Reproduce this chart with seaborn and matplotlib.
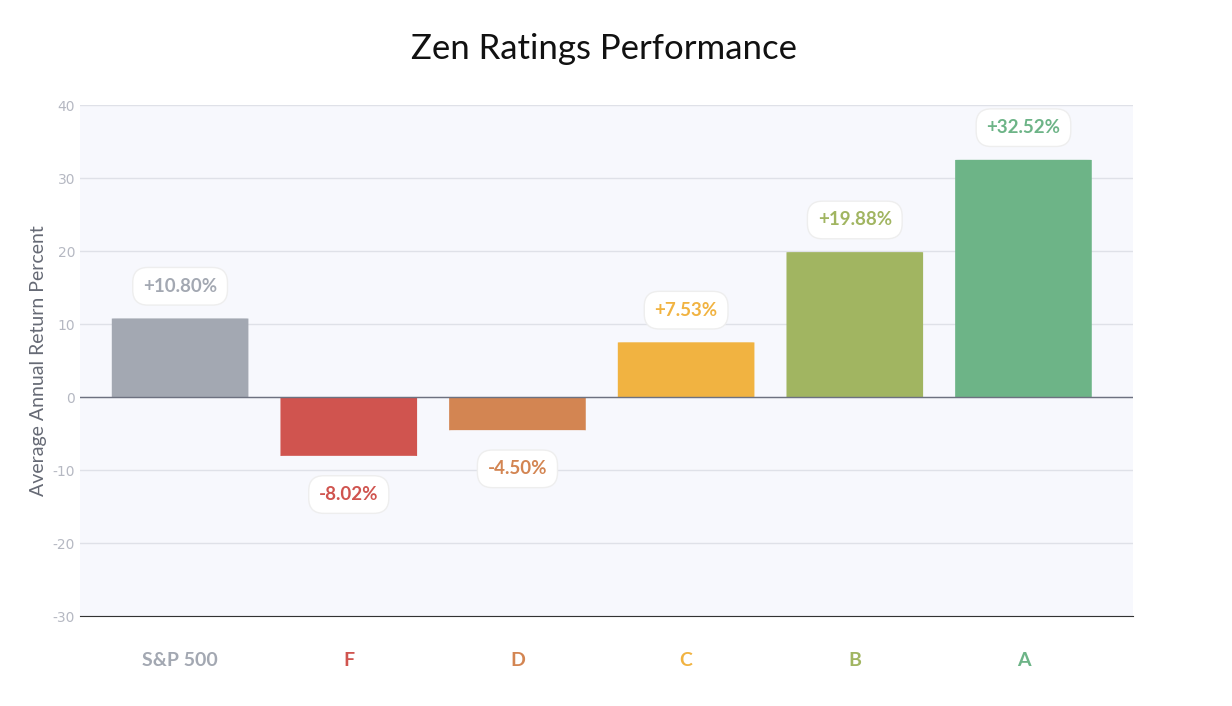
import matplotlib
matplotlib.use("Agg")
import matplotlib.pyplot as plt
import seaborn as sns
import pandas as pd
from matplotlib.patches import FancyBboxPatch

plt.rcParams["axes.unicode_minus"] = False

categories = ["S&P 500", "F", "D", "C", "B", "A"]
values = [10.80, -8.02, -4.50, 7.53, 19.88, 32.52]
labels = ["+10.80%", "-8.02%", "-4.50%", "+7.53%", "+19.88%", "+32.52%"]
colors = ["#a3a8b2", "#d0544f", "#d38552", "#f1b341", "#a1b561", "#6db487"]
yticks = [-30, -20, -10, 0, 10, 20, 30, 40]

df = pd.DataFrame({"cat": categories, "val": values})
fig = plt.figure(figsize=(12.32, 7.06), dpi=100)
ax = fig.add_axes([0.065, 0.127, 0.855, 0.724])
ax.set_facecolor("#f7f8fd")
sns.barplot(data=df, x="cat", y="val", hue="cat", palette=colors, width=0.81,
            saturation=1, legend=False, ax=ax, zorder=3)
for p in list(ax.patches):
    x, y, w, h = p.get_x(), p.get_y(), p.get_width(), p.get_height()
    fc = p.get_facecolor()
    p.remove()
    ax.add_patch(FancyBboxPatch((x, y), w, h, boxstyle="round,pad=0,rounding_size=0.04",
                                mutation_aspect=7.3 / 169 * 12, fc=fc, ec="none", zorder=3))
ax.set_ylim(-30, 40)
ax.set_xlim(-0.593, 5.652)
ax.set_yticks(yticks)
ax.tick_params(axis="y", labelsize=10, labelcolor="#b5b8c2", length=0)
ax.tick_params(axis="x", length=0, pad=26)
for t, c in zip(ax.get_xticklabels(), colors):
    t.set_color(c); t.set_fontweight("bold"); t.set_fontsize(14); t.set_family("Lato")
ax.grid(axis="y", color="#dfe1e8", lw=1, zorder=0)
ax.axhline(0, color="#6d7180", lw=1, zorder=4)
for s in ["top", "right", "left"]:
    ax.spines[s].set_visible(False)
ax.spines["bottom"].set_color("#333333")
ax.set_xlabel("")
ax.set_ylabel("Average Annual Return Percent", fontsize=14, color="#666a75", family="Lato")
for i, (v, l, c) in enumerate(zip(values, labels, colors)):
    y = v + 4.4 if v > 0 else v - 5.3
    ax.text(i, y, l, ha="center", va="center", fontsize=13.5, fontweight="bold",
            color=c, family="Lato", zorder=5,
            bbox=dict(boxstyle="round,pad=0.55,rounding_size=0.8", fc="white", ec="#eeeeee"))
fig.text(0.49, 0.93, "Zen Ratings Performance", ha="center", va="center",
         fontsize=25, color="#111111", family="Lato")
fig.savefig("out.png", dpi=100, facecolor="white")
